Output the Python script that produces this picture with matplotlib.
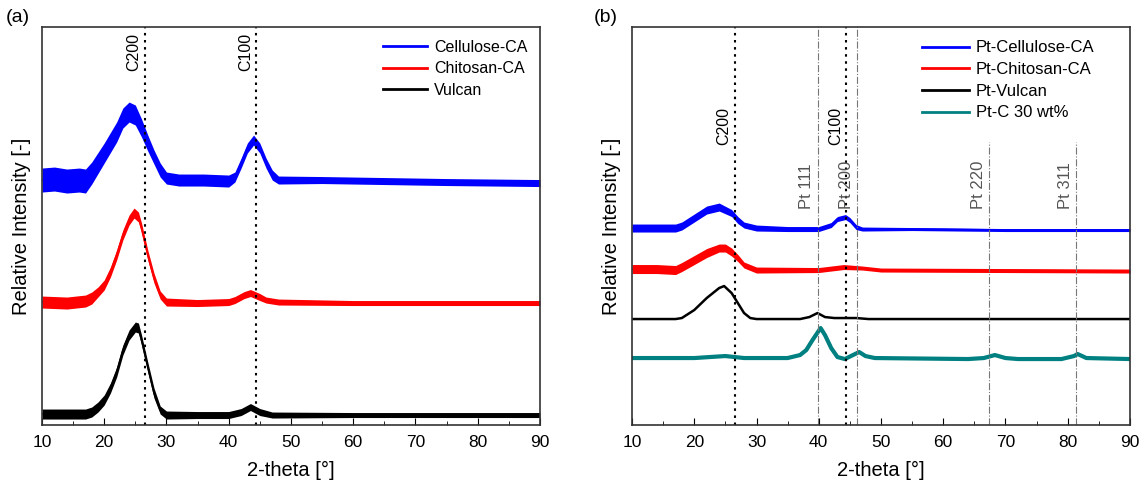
import numpy as np
import matplotlib.pyplot as plt

plt.rcParams['font.family'] = ['Liberation Sans', 'DejaVu Sans']

# ---- panel (a) data: 2-theta knots, trace centre, noise half-width
a_cell_x = [10, 12, 14, 16, 17, 18, 20, 22, 23, 24, 25, 26, 27, 28, 29, 30, 32, 36, 40,
            41, 42, 43, 44, 45, 46, 47, 48, 55, 65, 75, 90]
a_cell_y = [245, 246, 244, 245, 244, 252, 272, 293, 307, 313, 310, 297, 282, 268, 255, 247,
            245, 245, 244, 248, 262, 277, 285, 277, 262, 250, 245, 245, 244, 243, 242]
a_cell_n = [12, 12, 12, 12, 12, 11, 10, 10, 10, 10, 10, 9, 8, 7, 7, 6, 6, 6, 6,
            5, 5, 5, 5, 5, 5, 5, 4, 3.5, 3.5, 3.5, 3.5]

a_chit_x = [10, 14, 17, 18, 19, 20, 21, 22, 23, 24, 24.8, 25.5, 26, 27, 28, 29, 30, 35, 40,
            41, 42.5, 43.5, 45, 46, 48, 60, 90]
a_chit_y = [123, 122, 124, 127, 133, 140, 153, 170, 190, 205, 212, 208, 197, 170, 147, 130,
            123, 122, 123, 125, 130, 132, 128, 125, 123, 122, 122]
a_chit_n = [6, 6, 6, 6, 5, 5, 5, 5, 5, 5, 5, 5, 5, 5, 5, 4, 4, 3.5, 3.5,
            3.5, 3.5, 3.5, 3.5, 3, 3, 2.5, 2.5]

a_vul_x = [10, 14, 17, 18, 19, 20, 21, 22, 23, 24, 25, 25.5, 26, 27, 28, 29, 30, 35, 40,
           42, 43.5, 45, 47, 60, 90]
a_vul_y = [11, 11, 11, 13, 18, 25, 37, 53, 75, 90, 98, 97, 85, 58, 32, 15, 10, 10, 10,
           13, 18, 13, 10, 10, 10]
a_vul_n = [5, 5, 5, 5, 5, 5, 5, 5, 5, 5, 5, 5, 5, 5, 5, 4, 4, 3.5, 3.5,
           3.5, 3.5, 3.5, 3, 2.5, 2.5]

# ---- panel (b) data
b_cell_x = [10, 14, 17, 18, 20, 22, 24, 26, 27, 28, 30, 35, 40, 42, 43, 44.3, 45, 46, 47,
            55, 70, 90]
b_cell_y = [197, 197, 197, 199, 207, 215, 218, 212, 205, 200, 197, 196, 196, 200, 206, 208,
            205, 198, 196, 196, 195, 195]
b_cell_n = [4, 4, 4, 4, 4, 4, 4, 3.5, 3.5, 3, 3, 2.5, 2.5, 2.5, 2.5, 2.5, 2.5, 2.5, 2,
            1.5, 1.5, 1.5]

b_chit_x = [10, 14, 17, 18, 20, 22, 24, 25, 26, 27, 28, 30, 40, 44, 47, 50, 90]
b_chit_y = [156, 156, 155, 158, 165, 172, 177, 177, 173, 167, 160, 155, 155, 158, 157, 155, 154]
b_chit_n = [4.5, 4.5, 4.5, 4.5, 4.5, 4.5, 4, 4, 4, 3.5, 3, 3, 2.5, 2.5, 2, 2, 2]

b_vul_x = [10, 17, 18, 20, 22, 24, 24.8, 26, 27, 28, 29, 30, 37, 38.5, 39.8, 41, 42.5, 46,
           48, 90]
b_vul_y = [106, 106, 107, 115, 127, 137, 139, 132, 122, 112, 107, 106, 106, 108, 112, 108,
           107, 107, 106, 106]

b_ptc_x = [10, 20, 25, 28, 35, 37, 38, 39, 40.3, 41, 42, 43, 44.2, 45.5, 46.5, 47.5, 49,
           64, 66.5, 68.3, 70, 72, 79, 81, 81.6, 83, 90]
b_ptc_y = [67, 67, 69, 67, 67, 70, 75, 85, 97, 90, 77, 68, 66, 70, 73, 69, 67,
           66, 67, 70, 67, 66, 66, 69, 71, 67, 66]

c_peaks = [26.5, 44.4]
c_labels = ['C200', 'C100']
pt_peaks = [39.8, 46.2, 67.4, 81.3]
pt_labels = ['Pt 111', 'Pt 200', 'Pt 220', 'Pt 311']
pt_full = [True, True, False, False]

teal = '#008080'

fig = plt.figure(figsize=(11.4, 4.83), dpi=100)
ax1 = fig.add_axes([0.0368, 0.12, 0.4368, 0.824])
ax2 = fig.add_axes([0.5544, 0.12, 0.4368, 0.824])


def trace(ax, x, y, n, color, label):
    y = np.array(y, float)
    n = np.array(n, float)
    ax.fill_between(x, y - n, y + n, color=color, lw=0)
    ax.plot(x, y, color=color, lw=1.2, label=label)


trace(ax1, a_cell_x, a_cell_y, a_cell_n, '#0000ff', 'Cellulose-CA')
trace(ax1, a_chit_x, a_chit_y, a_chit_n, '#ff0000', 'Chitosan-CA')
trace(ax1, a_vul_x, a_vul_y, a_vul_n, 'black', 'Vulcan')

trace(ax2, b_cell_x, b_cell_y, b_cell_n, '#0000ff', 'Pt-Cellulose-CA')
trace(ax2, b_chit_x, b_chit_y, b_chit_n, '#ff0000', 'Pt-Chitosan-CA')
ax2.plot(b_vul_x, b_vul_y, color='black', lw=1.8, label='Pt-Vulcan')
ax2.plot(b_ptc_x, b_ptc_y, color=teal, lw=3, label='Pt-C 30 wt%')

for ax in (ax1, ax2):
    ax.set_xlim(10, 90)
    ax.set_ylim(0, 398)
    ax.set_yticks([])
    ax.set_xticks(range(10, 91, 10))
    ax.set_xticks(range(15, 90, 10), minor=True)
    ax.tick_params(axis='x', which='both', direction='in', labelsize=12.5, pad=7)
    ax.tick_params(axis='x', which='major', length=5)
    ax.tick_params(axis='x', which='minor', length=3)
    for s in ax.spines.values():
        s.set_linewidth(1.2)
        s.set_color('#333333')
    ax.set_xlabel('2-theta [°]', fontsize=14.5, labelpad=8)
    ax.set_ylabel('Relative Intensity [-]', fontsize=14.5, labelpad=8)

# panel (a) reference lines
for p, lab in zip(c_peaks, c_labels):
    ax1.axvline(p, color='black', ls=(0, (1.2, 2.2)), lw=1.5)
    ax1.text(p - 0.5, 392, lab, rotation=90, ha='right', va='top', fontsize=11.5)

# panel (b) reference lines
for p, lab, full in zip(pt_peaks, pt_labels, pt_full):
    top = 1.0 if full else 283 / 398
    ax2.axvline(p, ymax=top, color='#777777', ls='-.', lw=0.8)
    ax2.text(p - 0.5, 216, lab, rotation=90, ha='right', va='bottom', fontsize=12,
             color='#555555')
for p, lab in zip(c_peaks, c_labels):
    ax2.axvline(p, color='black', ls=(0, (1.2, 2.2)), lw=1.5)
    ax2.text(p - 0.5, 280, lab, rotation=90, ha='right', va='bottom', fontsize=11.5)

leg_anchor = {ax1: (1.0, 1.0), ax2: (0.955, 1.0)}
for ax in (ax1, ax2):
    leg = ax.legend(loc='upper right', bbox_to_anchor=leg_anchor[ax], frameon=False,
                    fontsize=11.5 if ax is ax1 else 12, handlelength=2.8,
                    labelspacing=0.4, borderaxespad=0.4, handletextpad=0.4)
    for h in leg.get_lines():
        h.set_linewidth(2)

fig.text(0.005, 0.955, '(a)', fontsize=14)
fig.text(0.521, 0.955, '(b)', fontsize=14)

fig.savefig('out.png', dpi=100)
